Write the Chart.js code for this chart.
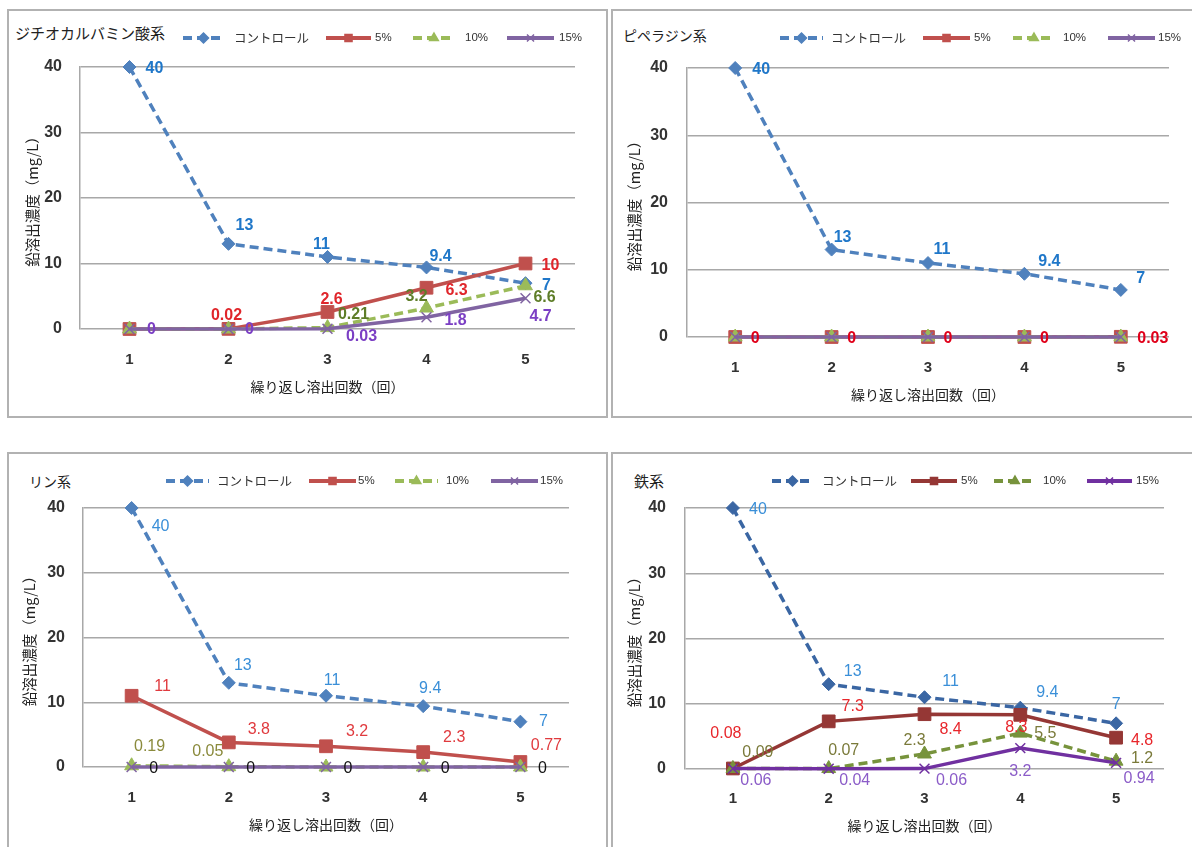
<!DOCTYPE html>
<html><head><meta charset="utf-8">
<script src="https://cdn.jsdelivr.net/npm/chart.js@4.4.1/dist/chart.umd.min.js"></script>
<style>
html,body{margin:0;padding:0;background:#fff;}
body{width:1192px;height:847px;overflow:hidden;position:relative;font-family:'Noto Sans CJK JP',sans-serif;}
.panel{position:absolute;border:2px solid #b2b2b2;box-sizing:border-box;}
.ttl{position:absolute;color:#222;white-space:nowrap;line-height:1;}
canvas{position:absolute;}
</style></head><body>
<div class="panel" style="left:7px;top:9px;width:601px;height:409px"></div>
<div class="panel" style="left:611px;top:9px;width:590px;height:409px"></div>
<div class="panel" style="left:7px;top:452px;width:601px;height:400px"></div>
<div class="panel" style="left:611px;top:452px;width:590px;height:400px"></div>
<div class="ttl" style="left:15px;top:25px;font-size:15px">ジチオカルバミン酸系</div>
<div class="ttl" style="left:623px;top:28px;font-size:14px">ピペラジン系</div>
<div class="ttl" style="left:29px;top:474px;font-size:14px">リン系</div>
<div class="ttl" style="left:634px;top:473px;font-size:15px">鉄系</div>
<canvas id="c1" width="597" height="405" style="left:9px;top:11px"></canvas>
<canvas id="c2" width="577" height="405" style="left:613px;top:11px"></canvas>
<canvas id="c3" width="597" height="393" style="left:9px;top:454px"></canvas>
<canvas id="c4" width="577" height="393" style="left:613px;top:454px"></canvas>
<script>
// ---- data ----
const rounds = ['1', '2', '3', '4', '5'];
const seriesNames = ['コントロール', '5%', '10%', '15%'];
const yTicks = [0, 10, 20, 30, 40];
const xTitle = '繰り返し溶出回数（回）';
const yTitle = '鉛溶出濃度（mg/L）';

// ジチオカルバミン酸系
const dtcControl = [40, 13, 11, 9.4, 7];
const dtc5 = [0, 0.02, 2.6, 6.3, 10];
const dtc10 = [0, 0, 0.21, 3.2, 6.6];
const dtc15 = [0, 0, 0.03, 1.8, 4.7];
// ピペラジン系
const pipControl = [40, 13, 11, 9.4, 7];
const pip5 = [0, 0, 0, 0, 0.03];
const pip10 = [0, 0, 0, 0, 0];
const pip15 = [0, 0, 0, 0, 0];
// リン系
const phosControl = [40, 13, 11, 9.4, 7];
const phos5 = [11, 3.8, 3.2, 2.3, 0.77];
const phos10 = [0.19, 0.05, 0, 0, 0];
const phos15 = [0, 0, 0, 0, 0];
// 鉄系
const feControl = [40, 13, 11, 9.4, 7];
const fe5 = [0.08, 7.3, 8.4, 8.3, 4.8];
const fe10 = [0.09, 0.07, 2.3, 5.5, 1.2];
const fe15 = [0.06, 0.04, 0.06, 3.2, 0.94];

// ---- styles ----
const NUM_FONT = "'Liberation Sans Narrow','Liberation Sans','Noto Sans CJK JP',sans-serif";
const JP_FONT = "'Noto Sans CJK JP',sans-serif";
const LEG_FONT = "'Liberation Sans','Noto Sans CJK JP',sans-serif";
const styleBase = [
  {dash: [9, 5], point: 'rectRot', radius: 6.5},
  {dash: [], point: 'rect', radius: 9},
  {dash: [9, 5], point: 'triangle', radius: 8},
  {dash: [], point: 'crossRot', radius: 7}
];
const lineColorsA = ['#4f81bd', '#c0504d', '#9bbb59', '#8064a2'];
const lineColorsB = ['#3a66a3', '#953735', '#77933c', '#7030a0'];

// label placement (pixel offsets from each marker), null = hidden
const offDtc = [
  [[25, 2], [16, -18], [-6, -12], [14, -11], [21, 2]],
  [null, [-2, -13], [4, -12], [30, 3], [25, 2]],
  [null, null, [26, -13], [-10, -11], [19, 12]],
  [[22, 1], [21, 1], [34, 8], [29, 3], [15, 18]]
];
const offPip = [
  [[26, 2], [11, -12], [14, -13], [25, -12], [20, -11]],
  [[20, 2], [20, 2], [20, 2], [20, 2], [32, 2]],
  [null, null, null, null, null],
  [null, null, null, null, null]
];
const offPhos = [
  [[29, 19], [14, -17], [6, -15], [7, -18], [23, 0]],
  [[31, -9], [30, -13], [31, -15], [31, -15], [26, -16]],
  [[18, -19], [-21, -15], null, null, null],
  [[22, 2], [22, 2], [22, 2], [22, 2], [22, 2]]
];
const offFe = [
  [[25, 2], [24, -13], [26, -16], [27, -15], [0, -19]],
  [[-7, -35], [24, -15], [26, 15], [-4, 13], [26, 3]],
  [[25, -16], [15, -18], [-10, -13], [25, 0], [26, -3]],
  [[23, 12], [26, 12], [27, 12], [0, 23], [23, 16]]
];

// ---- plugins ----
function markerAt(ctx, style, r, x, y) {
  if (Chart.helpers && Chart.helpers.drawPoint) {
    Chart.helpers.drawPoint(ctx, {pointStyle: style, radius: r, rotation: 0, borderWidth: 1.5}, x, y);
  } else {
    ctx.beginPath(); ctx.arc(x, y, r * 0.7, 0, Math.PI * 2); ctx.fill();
  }
}
const swatchLegend = {
  id: 'swatchLegend',
  afterDraw(chart, args, opts) {
    const ctx = chart.ctx;
    chart.data.datasets.forEach((ds, i) => {
      const it = opts.items[i];
      const y = opts.y;
      ctx.save();
      ctx.strokeStyle = ds.borderColor;
      ctx.fillStyle = ds.borderColor;
      ctx.lineWidth = 4;
      ctx.setLineDash(ds.borderDash && ds.borderDash.length ? [9, 5] : []);
      ctx.beginPath(); ctx.moveTo(it[0], y); ctx.lineTo(it[1], y); ctx.stroke();
      ctx.setLineDash([]);
      ctx.lineWidth = 1.5;
      markerAt(ctx, ds.pointStyle, 5, (it[0] + it[1]) / 2, y);
      ctx.fillStyle = '#333';
      ctx.font = (i === 0 ? '12.5px ' + JP_FONT : '11.5px ' + LEG_FONT);
      ctx.textBaseline = 'middle';
      ctx.textAlign = 'left';
      ctx.fillText(seriesNames[i], it[2], y);
      ctx.restore();
    });
  }
};
const valueLabels = {
  id: 'valueLabels',
  afterDatasetsDraw(chart, args, opts) {
    const ctx = chart.ctx;
    ctx.save();
    ctx.font = opts.font;
    ctx.textAlign = 'center';
    ctx.textBaseline = 'middle';
    chart.data.datasets.forEach((ds, i) => {
      const meta = chart.getDatasetMeta(i);
      ctx.fillStyle = opts.colors[i];
      meta.data.forEach((pt, j) => {
        const o = opts.offsets[i][j];
        if (!o) return;
        ctx.fillText(String(ds.data[j]), pt.x + o[0], pt.y + o[1]);
      });
    });
    ctx.restore();
  }
};

function makeChart(id, values, p) {
  const weight = p.bold ? 'bold' : 'normal';
  new Chart(document.getElementById(id), {
    type: 'line',
    data: {
      labels: rounds,
      datasets: values.map((vals, i) => ({
        label: seriesNames[i],
        data: vals,
        borderColor: p.lines[i],
        backgroundColor: p.lines[i],
        pointBackgroundColor: p.lines[i],
        pointBorderColor: p.lines[i],
        borderWidth: 3.5,
        borderDash: styleBase[i].dash,
        pointStyle: styleBase[i].point,
        pointRadius: styleBase[i].radius,
        pointBorderWidth: i === 3 ? 1.5 : 1,
        tension: 0,
        fill: false,
        clip: false,
        order: 3 - i
      }))
    },
    options: {
      responsive: false,
      animation: false,
      events: [],
      layout: {padding: {left: 0, right: p.padRight, top: p.top, bottom: 0}},
      plugins: {
        legend: {display: false},
        tooltip: {enabled: false},
        swatchLegend: {y: p.legendY, items: p.legendItems},
        valueLabels: {font: weight + ' 16px ' + NUM_FONT, colors: p.labelColors, offsets: p.offsets}
      },
      scales: {
        x: {
          offset: true,
          grid: {display: false},
          border: {display: false},
          ticks: {padding: p.xTickPad, color: '#333', font: {family: NUM_FONT, size: 15, weight: 'bold'}},
          title: {display: true, text: xTitle, color: '#222', font: {family: JP_FONT, size: 14}, padding: {top: 0, bottom: p.xTitlePad}},
          afterFit: s => { s.height = p.xH; }
        },
        y: {
          min: yTicks[0],
          max: yTicks[yTicks.length - 1],
          afterBuildTicks: s => { s.ticks = yTicks.map(v => ({value: v})); },
          grid: {color: '#a8a8a8', lineWidth: 1.5, drawTicks: false},
          border: {display: true, color: '#a8a8a8', width: 1.5},
          ticks: {padding: p.yTickPad, color: '#333', font: {family: NUM_FONT, size: 16, weight: 'bold'}},
          title: {display: true, text: yTitle, color: '#222', font: {family: JP_FONT, size: 14.5}, padding: {top: p.yTitlePad, bottom: 0}},
          afterFit: s => { s.width = p.yW; }
        }
      }
    },
    plugins: [swatchLegend, valueLabels]
  });
}

makeChart('c1', [dtcControl, dtc5, dtc10, dtc15], {
  yW: 71, padRight: 31, top: 56, xH: 87, yTitlePad: 15, yTickPad: 18, xTickPad: 14, xTitlePad: 21,
  legendY: 27, legendItems: [[174, 215, 225], [317, 362, 366], [404, 446, 456], [498, 545, 550]],
  bold: true, lines: lineColorsA, labelColors: ['#1f77c9', '#e0262b', '#5e7d28', '#7b3fc4'], offsets: offDtc
});
makeChart('c2', [pipControl, pip5, pip10, pip15], {
  yW: 74, padRight: 21, top: 57, xH: 79, yTitlePad: 13, yTickPad: 19, xTickPad: 14, xTitlePad: 13,
  legendY: 27, legendItems: [[167, 210, 218], [310, 357, 361], [400, 442, 450], [495, 542, 545]],
  bold: true, lines: lineColorsA, labelColors: ['#1f77c9', '#e0001a', '#5e7d28', '#7b3fc4'], offsets: offPip
});
makeChart('c3', [phosControl, phos5, phos10, phos15], {
  yW: 74, padRight: 37, top: 54, xH: 80, yTitlePad: 12, yTickPad: 18, xTickPad: 14, xTitlePad: 14,
  legendY: 27, legendItems: [[157, 200, 208], [300, 347, 349], [386, 429, 437], [482, 529, 531]],
  bold: false, lines: lineColorsA, labelColors: ['#3a8fd8', '#e03a3e', '#8a8a3c', '#111111'], offsets: offPhos
});
makeChart('c4', [feControl, fe5, fe10, fe15], {
  yW: 72, padRight: 26, top: 54, xH: 78, yTitlePad: 13, yTickPad: 19, xTickPad: 13, xTitlePad: 13,
  legendY: 27, legendItems: [[159, 200, 209], [298, 344, 348], [381, 423, 430], [474, 519, 523]],
  bold: false, lines: lineColorsB, labelColors: ['#3a8fd8', '#e8262b', '#7a7a3a', '#8b5cc8'], offsets: offFe
});
</script>
</body></html>
